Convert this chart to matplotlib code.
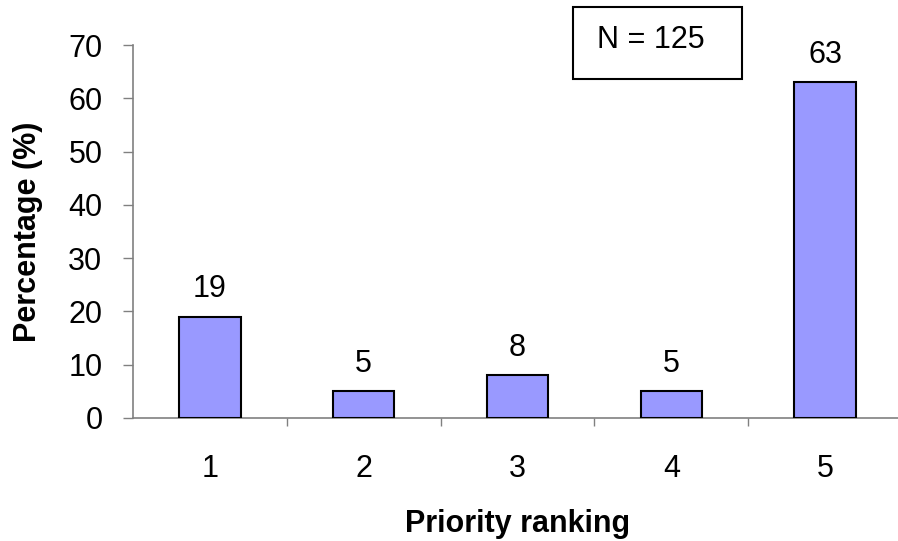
import matplotlib
matplotlib.use("Agg")
import matplotlib.pyplot as plt
from matplotlib.patches import Rectangle
from matplotlib.ticker import FixedLocator, NullFormatter

plt.rcParams['font.family'] = ['Liberation Sans', 'DejaVu Sans']

rankings = ["1", "2", "3", "4", "5"]
percentages = [19, 5, 8, 5, 63]
y_ticks = [0, 10, 20, 30, 40, 50, 60, 70]
sample_note = "N = 125"

fig = plt.figure(figsize=(8.98, 5.41), dpi=100)
ax = fig.add_axes([0.1481, 0.2274, 0.8564, 0.6894])

positions = list(range(len(rankings)))
ax.bar(positions, percentages, width=0.4, color="#9999FF",
       edgecolor="black", linewidth=1.5, zorder=3)

for x, v in zip(positions, percentages):
    ax.annotate(f"{v}", xy=(x, v), xytext=(0, 9), textcoords="offset points",
                ha="center", va="bottom", fontsize=22)

ax.set_xlim(-0.5, len(rankings) - 0.5)
ax.set_ylim(0, 70)

# y axis
ax.set_yticks(y_ticks)
ax.tick_params(axis="y", direction="out", length=7, width=1, color="#808080",
               labelsize=22, pad=15)

# x axis: ticks on category boundaries, labels at category centres
ax.xaxis.set_major_locator(FixedLocator([p + 0.5 for p in positions]))
ax.xaxis.set_major_formatter(NullFormatter())
ax.xaxis.set_minor_locator(FixedLocator(positions))
ax.set_xticklabels(rankings, minor=True)
ax.tick_params(axis="x", which="major", direction="out", length=6, width=1,
               color="#808080")
ax.tick_params(axis="x", which="minor", length=0, labelsize=22, pad=26)

for side in ("top", "right"):
    ax.spines[side].set_visible(False)
for side in ("left", "bottom"):
    ax.spines[side].set_color("#808080")
    ax.spines[side].set_linewidth(1.2)

ax.set_ylabel("Percentage (%)", fontsize=22, fontweight="bold", labelpad=18)
ax.set_xlabel("Priority ranking", fontsize=22, fontweight="bold", labelpad=18)

# sample-size note in a framed box
fig.patches.append(Rectangle((0.638, 0.854), 0.1882, 0.1331,
                             transform=fig.transFigure, facecolor="white",
                             edgecolor="black", linewidth=1.5))
fig.text(0.7244, 0.9113, sample_note, fontsize=22, ha="center", va="baseline")

fig.savefig("out.png", dpi=100)
